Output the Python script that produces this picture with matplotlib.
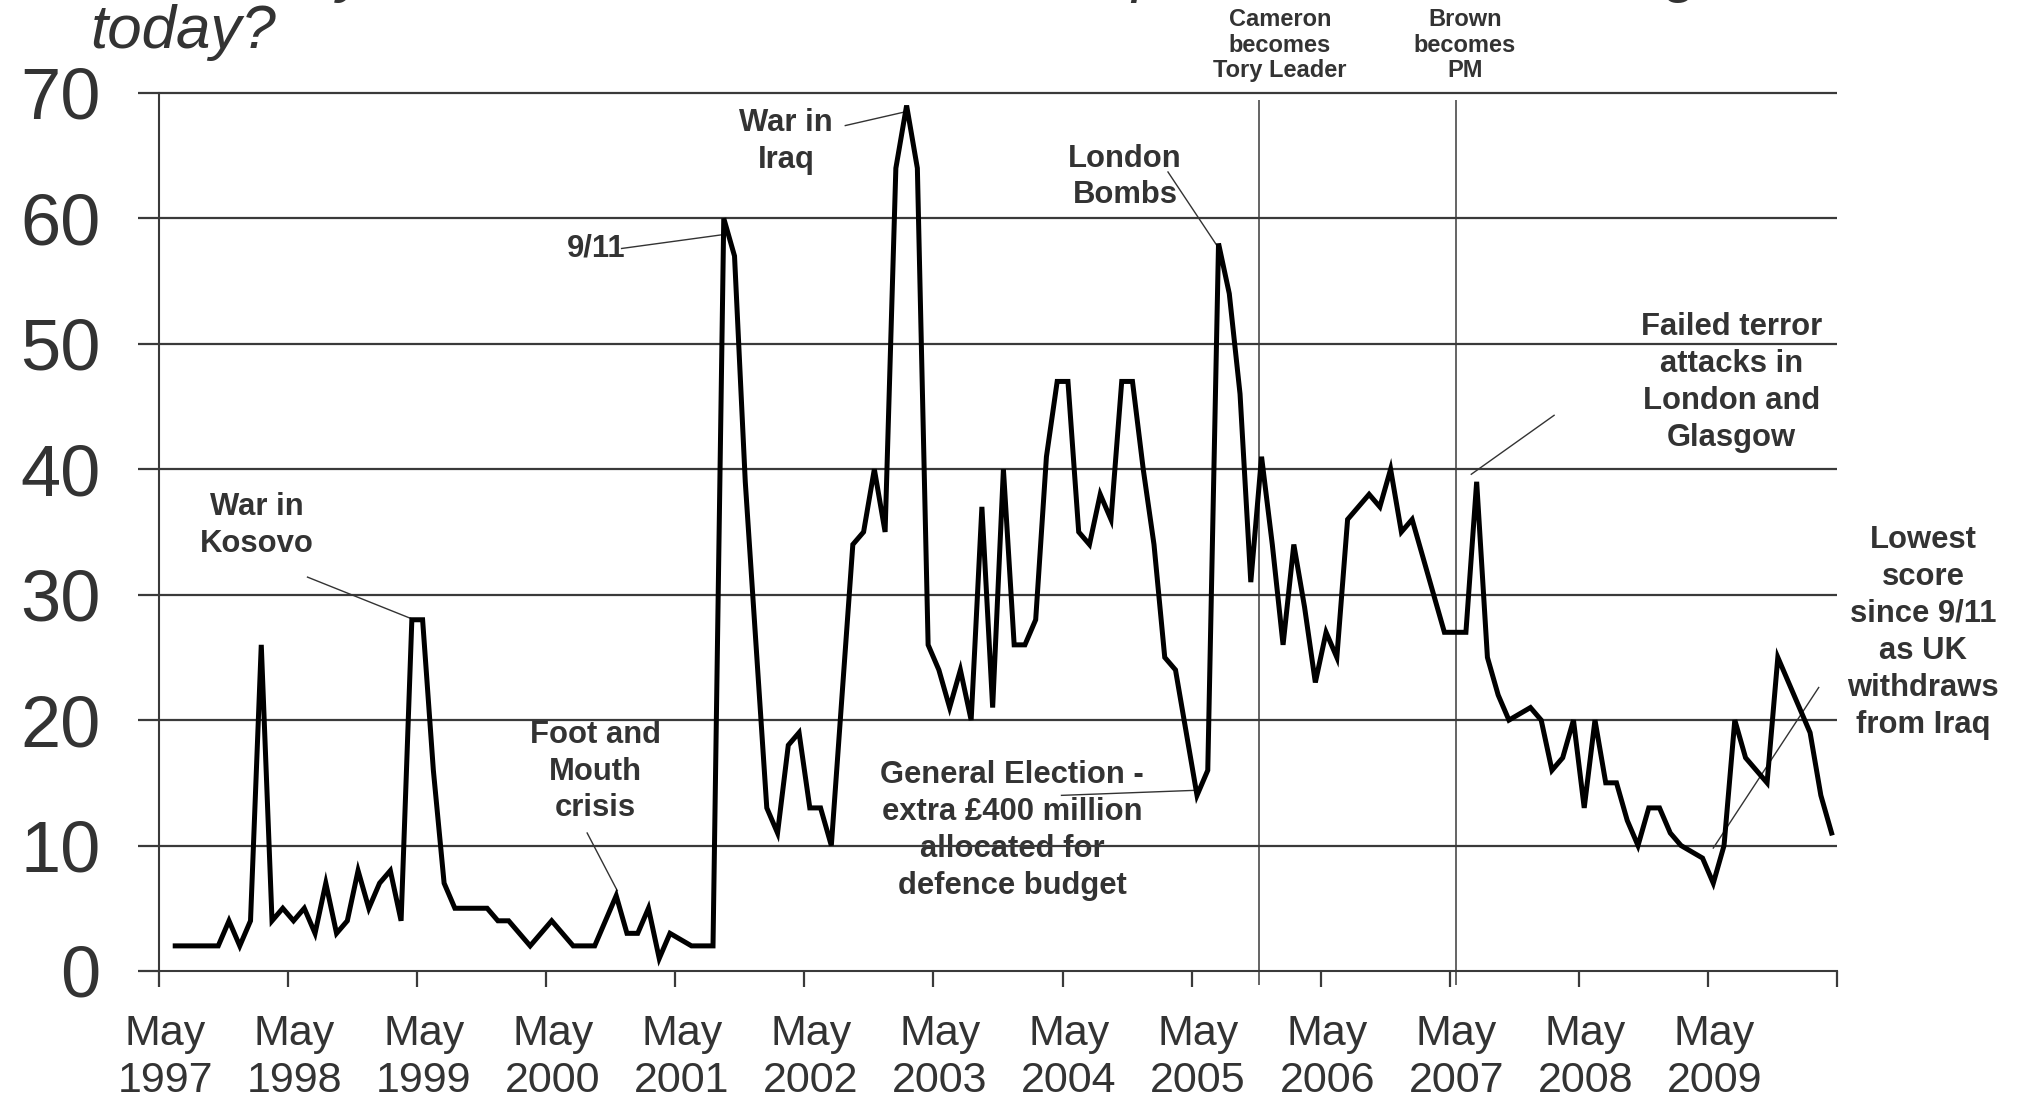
import numpy as np
import matplotlib
matplotlib.use("Agg")
import matplotlib.pyplot as plt
import matplotlib.transforms as mtransforms

plt.rcParams['font.family'] = ['Liberation Sans', 'DejaVu Sans']

# monthly index score, first value is June 1997 (month 1 after May 1997)
start_month = 1
scores = [2, 2, 2, 2, 2, 4, 2, 4, 26, 4, 5, 4, 5, 3, 7, 3, 4, 8, 5, 7,
          8, 4, 28, 28, 16, 7, 5, 5, 5, 5, 4, 4, 3, 2, 3, 4, 3, 2, 2, 2,
          4, 6, 3, 3, 5, 1, 3, 2.5, 2, 2, 2, 60, 57, 39, 26, 13, 11, 18, 19, 13,
          13, 10, 22, 34, 35, 40, 35, 64, 69, 64, 26, 24, 21, 24, 20, 37, 21, 40, 26, 26,
          28, 41, 47, 47, 35, 34, 38, 36, 47, 47, 40, 34, 25, 24, 19, 14, 16, 58, 54, 46,
          31, 41, 34, 26, 34, 29, 23, 27, 25, 36, 37, 38, 37, 40, 35, 36, 33, 30, 27, 27,
          27, 39, 25, 22, 20, 20.5, 21, 20, 16, 17, 20, 13, 20, 15, 15, 12, 10, 13, 13, 11,
          10, 9.5, 9, 7, 10, 20, 17, 16, 15, 25, 23, 21, 19, 14, 11]

years = [str(y) for y in range(1997, 2010)]
yticks = [0, 10, 20, 30, 40, 50, 60, 70]

# (text, x, y, leader start, leader end) in month / score units
notes = [
    ("War in\nKosovo", 9.1, 35.5, (13.8, 31.4), (24.0, 27.9)),
    ("Foot and\nMouth\ncrisis", 40.6, 15.9, (39.8, 11.0), (42.6, 6.4)),
    ("9/11", 40.6, 57.6, (43.0, 57.6), (52.4, 58.7)),
    ("War in\nIraq", 58.3, 66.1, (63.8, 67.4), (69.4, 68.5)),
    ("London\nBombs", 89.8, 63.3, (93.8, 63.7), (98.3, 57.9)),
    ("General Election -\nextra £400 million\nallocated for\ndefence budget", 79.3, 11.2,
     (83.9, 14.0), (96.3, 14.4)),
    ("Failed terror\nattacks in\nLondon and\nGlasgow", 146.2, 46.9, (129.7, 44.3), (122.0, 39.6)),
    ("Lowest\nscore\nsince 9/11\nas UK\nwithdraws\nfrom Iraq", 164.0, 27.0, (154.3, 22.6), (144.5, 9.8)),
]
events = [("Cameron\nbecomes\nTory Leader", 102.3, 104.2), ("Brown\nbecomes\nPM", 120.6, 121.4)]

grey = '#3a3a3a'
x = np.arange(len(scores)) + start_month + 0.5

fig = plt.figure(figsize=(20.24, 11), dpi=100)
ax = fig.add_axes([0.0786, 0.1173, 0.829, 0.7982])
ax.set_xlim(0, 156)
ax.set_ylim(0, 70)

for s in ['top', 'right']:
    ax.spines[s].set_visible(False)
for s in ['left', 'bottom']:
    ax.spines[s].set_color(grey)
    ax.spines[s].set_linewidth(1.5)

ax.hlines(yticks[1:], 0, 156, color=grey, lw=1.6, zorder=1, clip_on=False)
ax.vlines([e[1] for e in events], -1.1, 69.4, color=grey, lw=1.1, zorder=1, clip_on=False)

ax.plot(x, scores, color='black', lw=3.6, solid_joinstyle='miter', zorder=3)

ax.set_yticks(yticks)
ax.set_yticklabels([str(v) for v in yticks], fontsize=52, color='#333333')
ax.tick_params(axis='y', direction='out', length=15, width=1.6, color=grey, pad=27)
ax.set_xticks(np.arange(0, 157, 12))
ax.set_xticklabels([])
ax.tick_params(axis='x', direction='out', length=11.5, width=1.6, color=grey)

trans = mtransforms.blended_transform_factory(ax.transData, ax.transAxes)
for k, yr in enumerate(years):
    ax.text(k * 12 + 0.6, -0.049, "May\n" + yr, transform=trans, ha='center', va='top',
            fontsize=31, color='#333333', linespacing=1.22)

for txt, tx, ty, p0, p1 in notes:
    ax.text(tx, ty, txt, ha='center', va='center', fontsize=22.3, fontweight='bold',
            color='#333333', linespacing=1.3, zorder=0.5, clip_on=False)
    ax.plot([p0[0], p1[0]], [p0[1], p1[1]], color='#333333', lw=1.0, zorder=2, clip_on=False)

for txt, lx, tx in events:
    ax.text(tx, 73.8, txt, ha='center', va='center', fontsize=17, fontweight='bold',
            color='#333333', linespacing=1.15, clip_on=False)

fig.text(0.0445, 1.009, "What do you see as the most/other important issues facing Britain",
         fontsize=44.6, style='italic', color='#333333', va='baseline', ha='left')
fig.text(0.0445, 0.9564, "today?", fontsize=44.6, style='italic', color='#333333',
         va='baseline', ha='left')

fig.savefig("out.png", dpi=100, facecolor='white')
